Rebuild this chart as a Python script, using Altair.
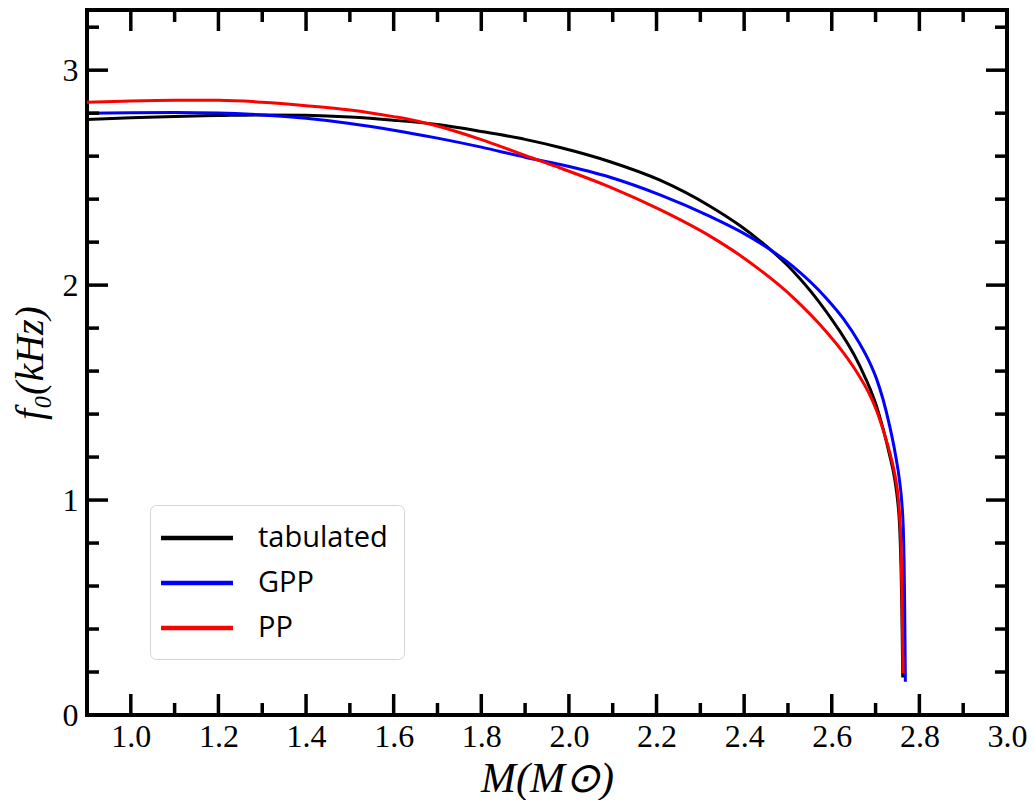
import altair as alt
import pandas as pd

# ---- data ----
series_names = ["tabulated", "GPP", "PP"]
series_colors = ["black", "blue", "red"]

tab_M = [0.90, 1.00, 1.10, 1.20, 1.30, 1.40, 1.50, 1.60, 1.70, 1.80, 1.90, 1.98,
         2.094, 2.208, 2.322, 2.391, 2.436, 2.512, 2.588, 2.664, 2.702, 2.717, 2.731,
         2.744, 2.750, 2.755, 2.758, 2.760, 2.762]
tab_f = [2.771, 2.779, 2.785, 2.789, 2.792, 2.790, 2.782, 2.767, 2.747, 2.715, 2.678, 2.640,
         2.574, 2.488, 2.367, 2.276, 2.206, 2.065, 1.875, 1.624, 1.438, 1.333, 1.218,
         1.094, 1.004, 0.874, 0.694, 0.494, 0.174]

gpp_M = [0.90, 1.00, 1.10, 1.20, 1.30, 1.40, 1.50, 1.60, 1.70, 1.80, 1.90, 1.98,
         2.094, 2.208, 2.322, 2.391, 2.436, 2.512, 2.588, 2.626, 2.664, 2.684, 2.702,
         2.717, 2.732, 2.745, 2.755, 2.760, 2.763, 2.765, 2.766, 2.767, 2.768]
gpp_f = [2.800, 2.802, 2.803, 2.801, 2.792, 2.776, 2.752, 2.721, 2.684, 2.642, 2.595, 2.561,
         2.502, 2.420, 2.320, 2.250, 2.196, 2.086, 1.938, 1.845, 1.727, 1.651, 1.565,
         1.469, 1.346, 1.216, 1.086, 0.986, 0.881, 0.721, 0.571, 0.371, 0.155]

pp_M = [0.90, 1.00, 1.10, 1.20, 1.30, 1.40, 1.50, 1.60, 1.65, 1.70, 1.75, 1.80,
        1.85, 1.90, 1.98, 2.094, 2.208, 2.322, 2.391, 2.436, 2.512, 2.588, 2.626,
        2.664, 2.684, 2.702, 2.717, 2.733, 2.745, 2.751, 2.755, 2.758, 2.760, 2.762, 2.763]
pp_f = [2.851, 2.857, 2.860, 2.860, 2.851, 2.835, 2.815, 2.784, 2.765, 2.740, 2.710, 2.677,
        2.641, 2.603, 2.545, 2.456, 2.351, 2.228, 2.138, 2.071, 1.942, 1.782, 1.687,
        1.573, 1.501, 1.418, 1.328, 1.216, 1.108, 1.024, 0.924, 0.789, 0.589, 0.309, 0.195]

x_major = [1.0, 1.2, 1.4, 1.6, 1.8, 2.0, 2.2, 2.4, 2.6, 2.8, 3.0]
x_minor = [1.1, 1.3, 1.5, 1.7, 1.9, 2.1, 2.3, 2.5, 2.7, 2.9]
y_major = [0, 1, 2, 3]
y_minor = [0.2, 0.4, 0.6, 0.8, 1.2, 1.4, 1.6, 1.8, 2.2, 2.4, 2.6, 2.8, 3.2]

x_title = "M(M⊙)"
y_title = "f₀(kHz)"

# ---- build tables ----
rows = []
for name, Ms, fs in zip(series_names, [tab_M, gpp_M, pp_M], [tab_f, gpp_f, pp_f]):
    for i, (m, f) in enumerate(zip(Ms, fs)):
        rows.append({"series": name, "M": m, "f": f, "idx": i})
df = pd.DataFrame(rows)

W, H = 920, 705
XMAJ, XMIN = 21, 12

xscale = alt.Scale(domain=[0.9, 3.0], nice=False, zero=False)
yscale = alt.Scale(domain=[0, 3.28], nice=False, zero=False)

serif = "Liberation Serif"

x_axis = alt.Axis(values=x_major, format=".1f", domain=False, ticks=False, grid=False,
                  labelFont=serif, labelFontSize=32, labelColor="black",
                  labelPadding=6, labelFlush=False, labelOverlap=False,
                  title=x_title, titleFont=serif, titleFontSize=42,
                  titleFontStyle="italic", titleFontWeight="normal",
                  titleColor="black", titlePadding=6)
y_axis = alt.Axis(values=y_major, format="d", domain=False, ticks=False, grid=False,
                  labelFont=serif, labelFontSize=32, labelColor="black",
                  labelPadding=9, labelFlush=False, labelOverlap=False,
                  title=y_title, titleFont=serif, titleFontSize=40,
                  titleFontStyle="italic", titleFontWeight="normal",
                  titleColor="black", titlePadding=12)

lines = alt.Chart(df).mark_line(strokeWidth=3, clip=True, interpolate="monotone").encode(
    x=alt.X("M:Q", scale=xscale, axis=x_axis),
    y=alt.Y("f:Q", scale=yscale, axis=y_axis),
    color=alt.Color("series:N",
                    scale=alt.Scale(domain=series_names, range=series_colors),
                    legend=alt.Legend(orient="none", legendX=63, legendY=495, title=None,
                                      symbolType="M-2.5,0H2.5", symbolSize=829,
                                      symbolStrokeWidth=4.5, symbolOffset=14,
                                      labelFont="Open Sans", labelFontSize=29,
                                      labelColor="black", labelOffset=44,
                                      rowPadding=13, padding=16,
                                      strokeColor="#d5d5d5", cornerRadius=6,
                                      fillColor="white")),
    order=alt.Order("idx:Q"),
)

xmaj_df = pd.DataFrame({"M": x_major})
xmin_df = pd.DataFrame({"M": x_minor})
ymaj_df = pd.DataFrame({"f": y_major})
ymin_df = pd.DataFrame({"f": y_minor})

tick = dict(color="black", strokeWidth=3.5)


def xticks(d, L):
    bottom = alt.Chart(d).mark_rule(**tick).encode(
        x=alt.X("M:Q", scale=xscale, axis=x_axis), y=alt.value(H), y2=alt.value(H - L))
    top = alt.Chart(d).mark_rule(**tick).encode(
        x=alt.X("M:Q", scale=xscale, axis=x_axis), y=alt.value(0), y2=alt.value(L))
    return [bottom, top]


def yticks(d, L):
    left = alt.Chart(d).mark_rule(**tick).encode(
        y=alt.Y("f:Q", scale=yscale, axis=y_axis), x=alt.value(0), x2=alt.value(L))
    right = alt.Chart(d).mark_rule(**tick).encode(
        y=alt.Y("f:Q", scale=yscale, axis=y_axis), x=alt.value(W), x2=alt.value(W - L))
    return [left, right]


layers = [lines] + xticks(xmaj_df, XMAJ) + xticks(xmin_df, XMIN) + yticks(ymaj_df, XMAJ) + yticks(ymin_df, XMIN)

chart = alt.layer(*layers).properties(
    width=W, height=H,
    autosize=alt.AutoSizeParams(type="none"),
    padding={"left": 79, "top": 2, "right": 20, "bottom": 85},
    background="white",
).configure_view(stroke="black", strokeWidth=4)

chart.save("out.html", embed_options={"renderer": "svg", "actions": False})
